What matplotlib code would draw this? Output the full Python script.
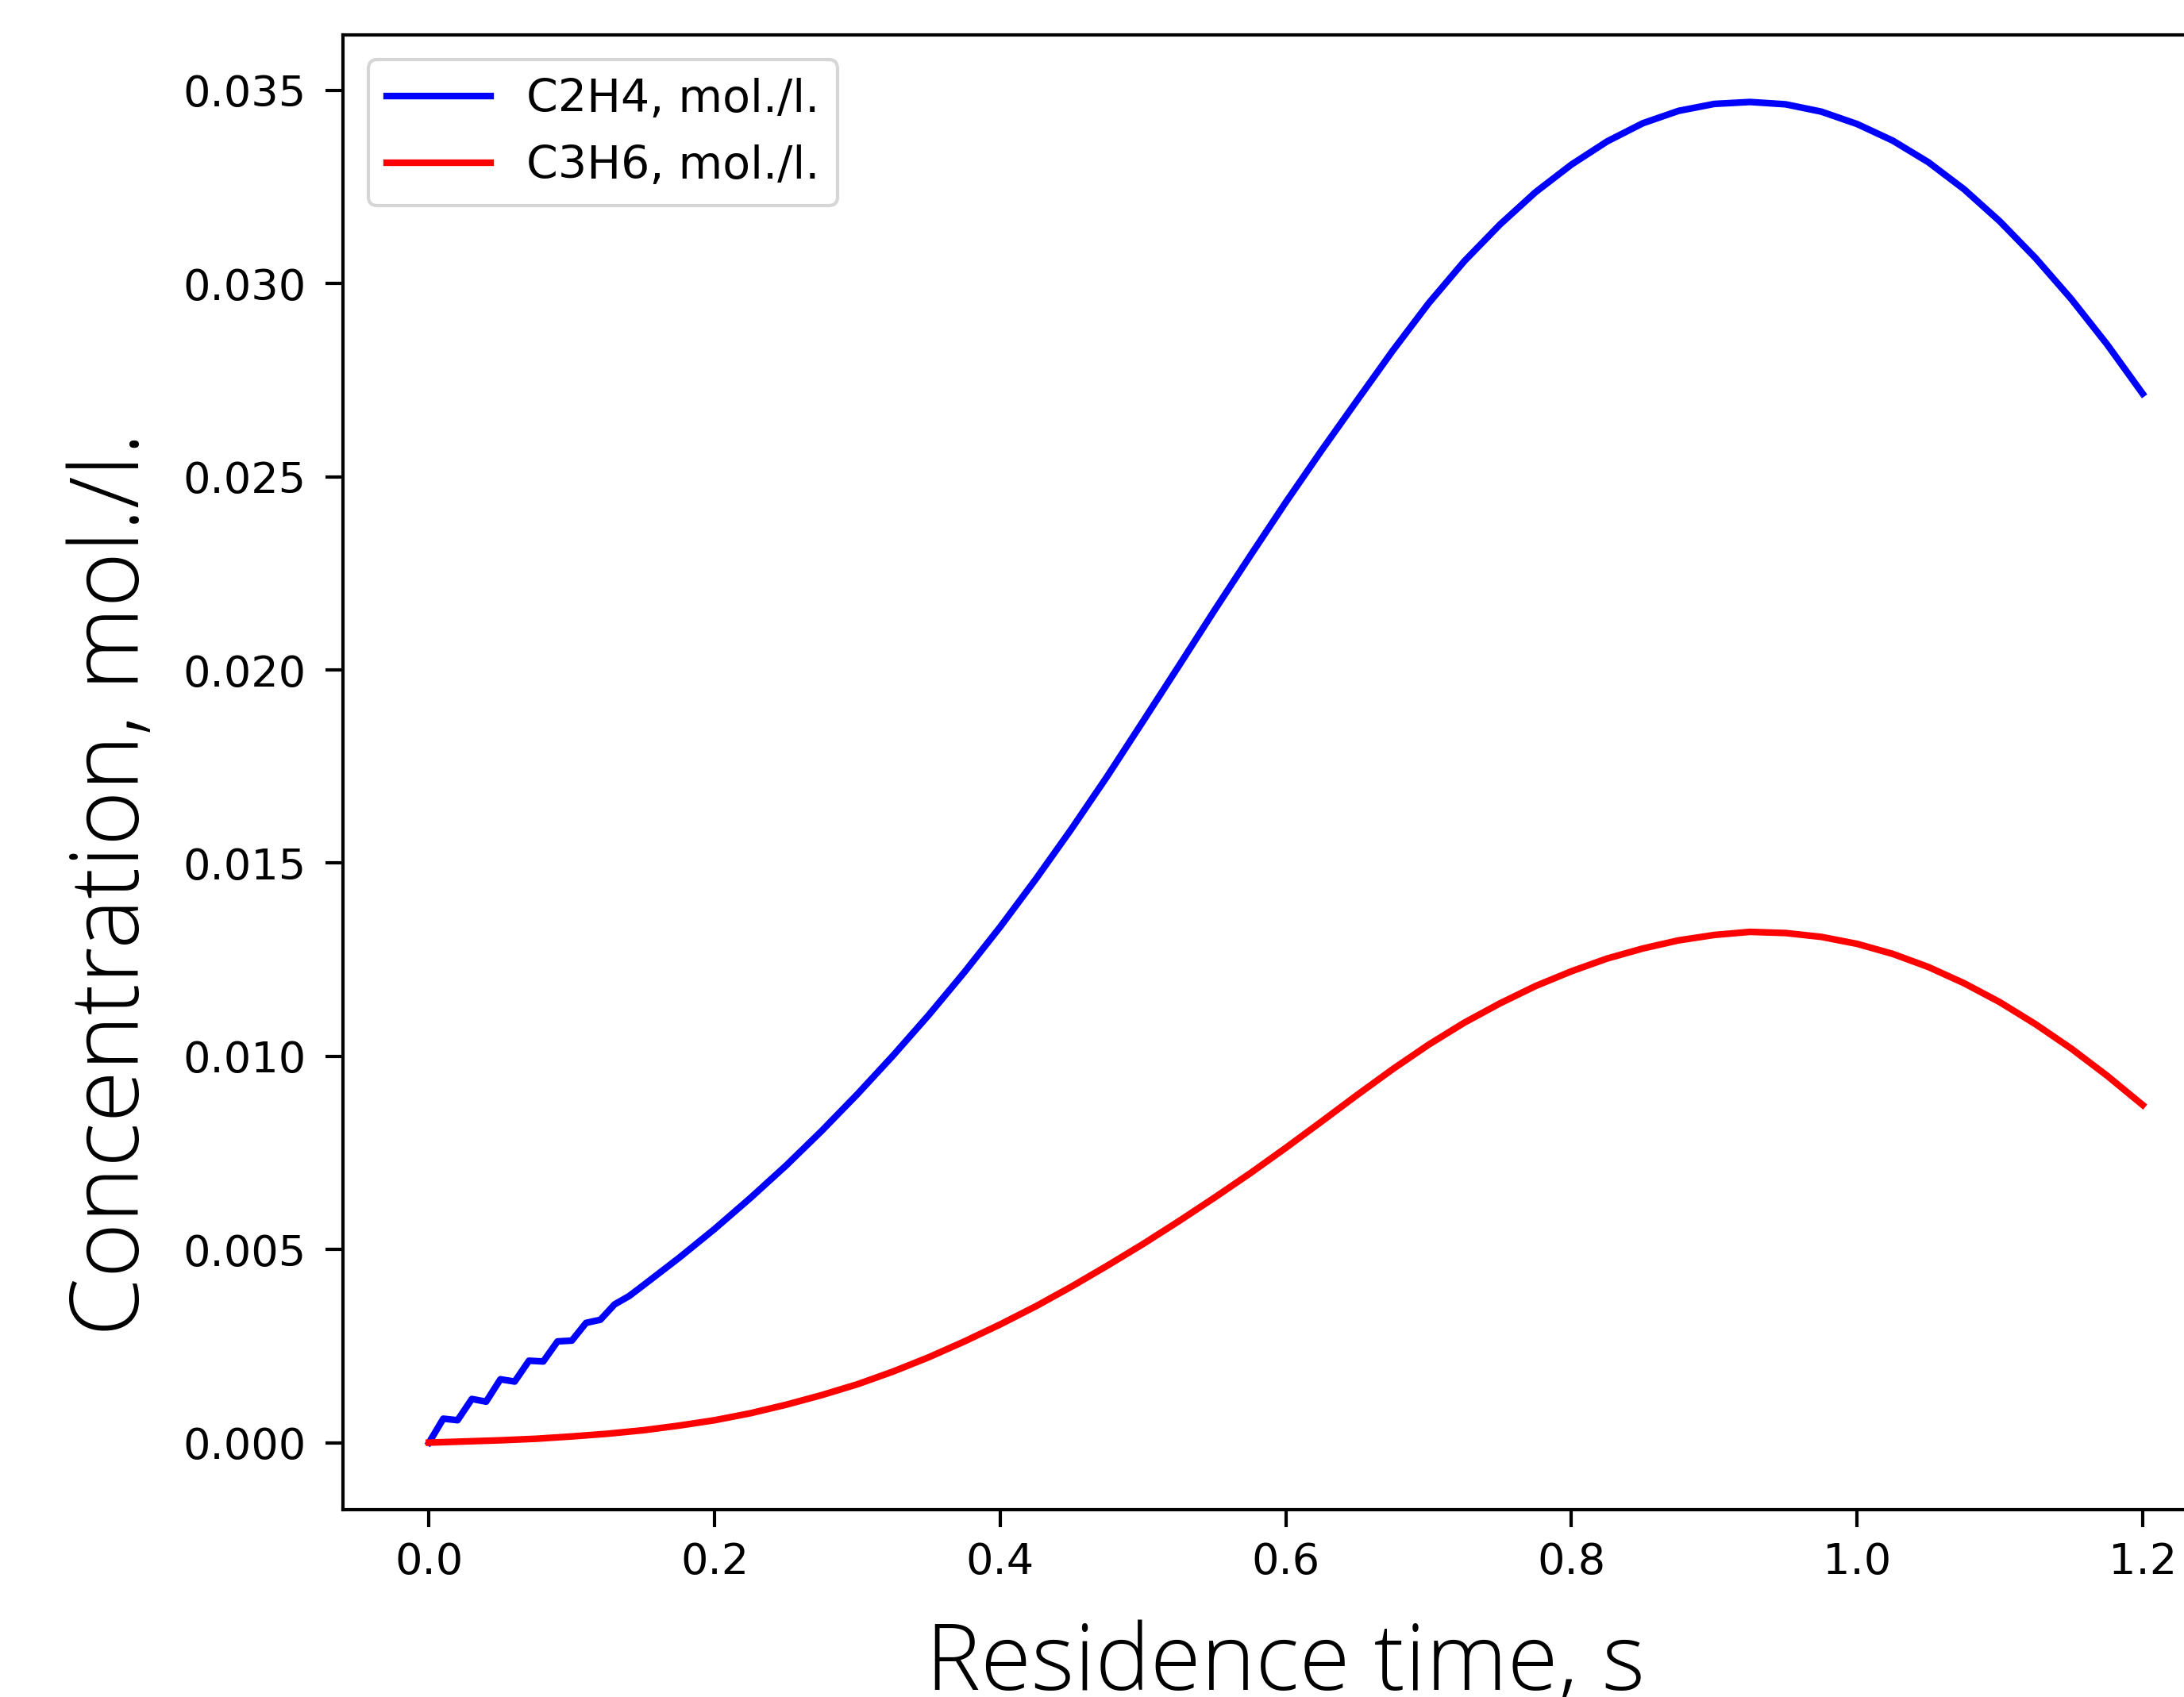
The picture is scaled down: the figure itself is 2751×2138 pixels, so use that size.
import matplotlib
matplotlib.use("Agg")
import matplotlib.pyplot as plt
from matplotlib import font_manager as fm

# ---------------- data ----------------
c2h4_t = [0.00, 0.01, 0.02, 0.03, 0.04, 0.05, 0.06, 0.07, 0.08, 0.09, 0.10,
          0.11, 0.12, 0.13, 0.14,
          0.15, 0.175, 0.2, 0.225, 0.25, 0.275, 0.3, 0.325, 0.35, 0.375,
          0.4, 0.425, 0.45, 0.475, 0.5, 0.525, 0.55, 0.575, 0.6, 0.625,
          0.65, 0.675, 0.7, 0.725, 0.75, 0.775, 0.8, 0.825, 0.85, 0.875,
          0.9, 0.925, 0.95, 0.975, 1.0, 1.025, 1.05, 1.075, 1.1, 1.125,
          1.15, 1.175, 1.2]
c2h4 = [0.0, 0.00062, 0.00058, 0.00113, 0.00106, 0.00164, 0.00158, 0.00212,
        0.00210, 0.00262, 0.00264, 0.00310, 0.00318, 0.00358, 0.00379,
        0.00407, 0.00478, 0.00553, 0.00633, 0.00717, 0.00807, 0.00902,
        0.01002, 0.01107, 0.01218, 0.01335, 0.01459, 0.01589, 0.01725,
        0.01867, 0.02010, 0.02154, 0.02295, 0.02434, 0.02568, 0.02698,
        0.02827, 0.02949, 0.03058, 0.03153, 0.03237, 0.03308, 0.03368,
        0.03415, 0.03447, 0.03465, 0.03470, 0.03464, 0.03445, 0.03413,
        0.03370, 0.03314, 0.03244, 0.03161, 0.03066, 0.02960, 0.02843,
        0.02715]

c3h6_t = [0.0, 0.025, 0.05, 0.075, 0.1, 0.125, 0.15, 0.175, 0.2, 0.225,
          0.25, 0.275, 0.3, 0.325, 0.35, 0.375, 0.4, 0.425, 0.45, 0.475,
          0.5, 0.525, 0.55, 0.575, 0.6, 0.625, 0.65, 0.675, 0.7, 0.725,
          0.75, 0.775, 0.8, 0.825, 0.85, 0.875, 0.9, 0.925, 0.95, 0.975,
          1.0, 1.025, 1.05, 1.075, 1.1, 1.125, 1.15, 1.175, 1.2]
c3h6 = [0.0, 0.00003, 0.00006, 0.00010, 0.00016, 0.00023, 0.00032, 0.00044,
        0.00058, 0.00076, 0.00098, 0.00123, 0.00151, 0.00184, 0.00221,
        0.00262, 0.00306, 0.00353, 0.00404, 0.00458, 0.00514, 0.00573,
        0.00634, 0.00697, 0.00763, 0.00831, 0.00900, 0.00967, 0.01030,
        0.01087, 0.01137, 0.01182, 0.01220, 0.01253, 0.01279, 0.01300,
        0.01314, 0.01322, 0.01319, 0.01309, 0.01291, 0.01265, 0.01231,
        0.01189, 0.01140, 0.01083, 0.01020, 0.00950, 0.00874]

series_labels = ["C2H4, mol./l.", "C3H6, mol./l."]
xlabel_text = "Residence time, s"
ylabel_text = "Concentration, mol./l."


# ---------------- light, normal-width font for the axis labels ----------------
def find_light():
    for fam in ["Open Sans", "Lato", "Roboto", "Noto Sans", "Inter"]:
        for f in fm.fontManager.ttflist:
            if (f.name == fam and isinstance(f.weight, int) and 200 <= f.weight <= 300
                    and f.style == "normal" and f.stretch == "normal"
                    and "ondensed" not in f.fname and "arrow" not in f.fname
                    and "emi" not in f.fname.split("/")[-1]):
                return f.fname
    return None


light_fp = find_light()

plt.rcParams["font.family"] = ["DejaVu Sans"]
fig = plt.figure(figsize=(27.51, 21.38), dpi=100)
ax = fig.add_axes([0.1572, 0.1104, 0.8631, 0.869])

ax.plot(c2h4_t, c2h4, color="#0000ff", lw=6, label=series_labels[0])
ax.plot(c3h6_t, c3h6, color="#ff0000", lw=6, label=series_labels[1])

for sp in ax.spines.values():
    sp.set_linewidth(3)
ax.tick_params(axis="both", length=16, width=3, labelsize=39, pad=13)
ax.tick_params(axis="y", pad=18)

leg = ax.legend(loc="upper left", fontsize=41, handlelength=2.3,
                borderaxespad=0.55, framealpha=0.8)
leg.get_frame().set_linewidth(3)


def make_font(size):
    if light_fp:
        return fm.FontProperties(fname=light_fp, size=size)
    return fm.FontProperties(family="DejaVu Sans", weight="light", size=size)


renderer = fig.canvas.get_renderer()

# x label: target width ~907 px, baseline near bottom edge
xl = fig.text(0.5887, 0.004, xlabel_text, fontproperties=make_font(80),
              ha="center", va="baseline")
w = xl.get_window_extent(renderer).width
xl.set_fontproperties(make_font(80 * 907.0 / w))

# y label: target length ~1140 px
yl = fig.text(0.0636, 0.479, ylabel_text, fontproperties=make_font(80),
              rotation=90, rotation_mode="anchor", ha="center", va="baseline")
h = yl.get_window_extent(renderer).height
yl.set_fontproperties(make_font(80 * 1140.0 / h))

fig.savefig("out.png", dpi=100, facecolor="white")
